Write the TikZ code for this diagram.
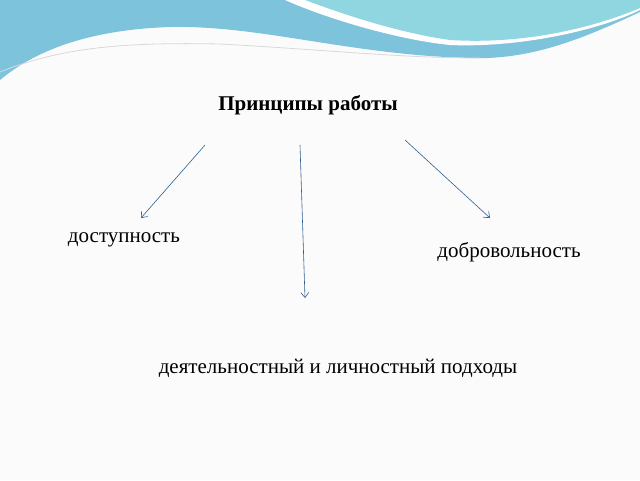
\documentclass[tikz,border=0pt]{standalone}
\usepackage{fontspec}
\setmainfont{Liberation Serif}
\usetikzlibrary{arrows.meta}
\definecolor{wblue}{HTML}{7EC3DC}
\definecolor{wlight}{HTML}{8FD6E0}
\definecolor{arr}{HTML}{2F5F8F}
\tikzset{lbl/.style={font=\fontsize{21}{24}\selectfont},
 arrw/.style={draw=arr,line width=0.6pt,-{Straight Barb[length=5pt,width=8pt]}}}
\begin{document}
\begin{tikzpicture}[x=1pt,y=-1pt]
\useasboundingbox (0,0) rectangle (640,480);
\fill[white!97!gray] (0,0) rectangle (640,480);
\fill[wblue] (0,0) -- (640,0) -- (640,12) .. controls (580,40) and (530,60) .. (470,58)
  .. controls (350,55) and (260,25) .. (170,27) .. controls (80,30) and (30,55) .. (0,80) -- cycle;
\fill[white] (285,0) .. controls (330,20) and (400,40) .. (450,45) .. controls (520,48) and (600,30) .. (640,10) -- (640,0) -- cycle;
\fill[wlight] (305,0) .. controls (345,15) and (400,33) .. (450,40) .. controls (530,45) and (600,25) .. (640,8) -- (640,0) -- cycle;
\draw[white!70!gray,line width=0.8pt] (0,72) .. controls (60,48) and (120,42) .. (220,44) .. controls (330,50) and (400,58) .. (480,58);
\node[font=\fontsize{21}{24}\selectfont\bfseries] (t) at (308,105) {Принципы работы};
\node[lbl] (a) at (124,240) {доступность};
\node[lbl] (b) at (509,252) {добровольность};
\node[lbl] (c) at (338,368) {деятельностный и личностный подходы};
\coordinate (a0) at (205,145); \coordinate (a1) at (141,218);
\coordinate (b0) at (300,145); \coordinate (b1) at (305,298);
\coordinate (c0) at (405,140); \coordinate (c1) at (490,218);
\draw[arrw] (a0) -- (a1);
\draw[arrw] (b0) -- (b1);
\draw[arrw] (c0) -- (c1);
\end{tikzpicture}
\end{document}
